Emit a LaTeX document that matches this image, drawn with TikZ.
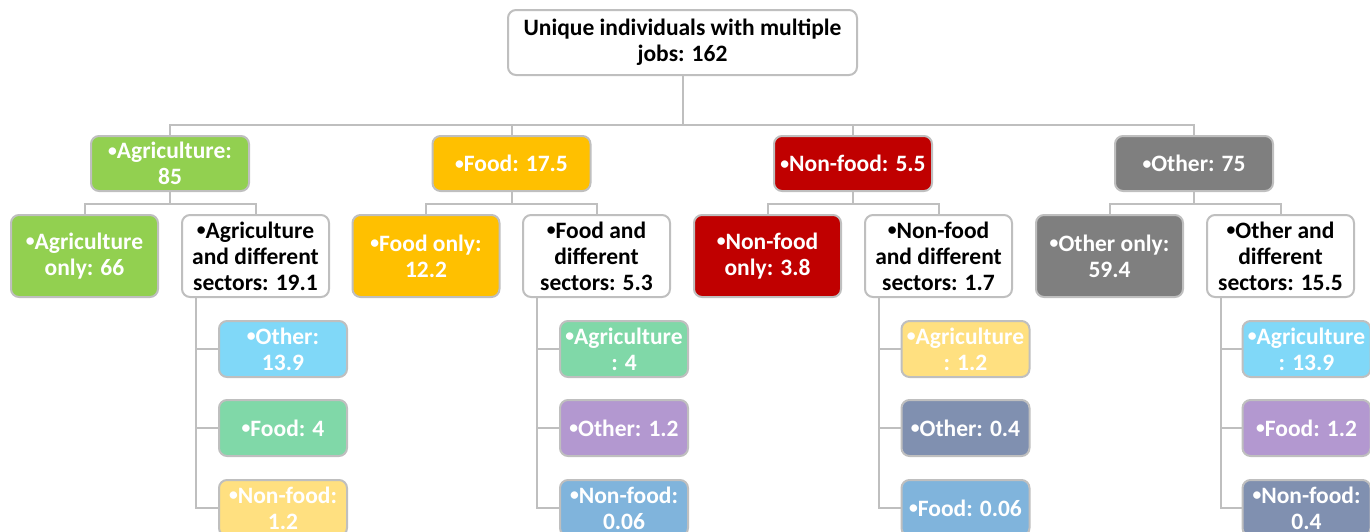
\documentclass[tikz,border=0pt]{standalone}
\usepackage{fontspec}
\setmainfont{Carlito}
\usetikzlibrary{calc,backgrounds}
\definecolor{bordergray}{HTML}{BFBFBF}
\definecolor{agri}{HTML}{92D050}
\definecolor{foodc}{HTML}{FFC000}
\definecolor{nonfood}{HTML}{C00000}
\definecolor{otherc}{HTML}{7F7F7F}
\definecolor{lblue}{HTML}{80D8F8}
\definecolor{lgreen}{HTML}{80D8A8}
\definecolor{lyellow}{HTML}{FFE080}
\definecolor{lpurple}{HTML}{B398D0}
\definecolor{mblue}{HTML}{80B4DC}
\definecolor{slate}{HTML}{8090B0}
\newcommand{\bul}{\raisebox{0.22ex}{\scalebox{0.75}{•}}}
\tikzset{
  box/.style={draw=bordergray, line width=2pt, rounded corners=8pt, align=center,
    inner sep=0pt, font=\fontsize{23.5}{26}\selectfont\bfseries},
  rootbox/.style={box, fill=white, text=black, minimum width=349pt, minimum height=65pt},
  lone/.style={box, text=white, minimum width=158pt, minimum height=55pt},
  ltwo/.style={box, minimum width=147pt, minimum height=82pt},
  lthree/.style={box, text=white, minimum width=128pt, minimum height=56pt},
  link/.style={draw=bordergray, line width=2pt},
}
\begin{document}
\begin{tikzpicture}[x=1pt,y=-1pt]
\useasboundingbox (0,0) rectangle (1370,531);
\node[rootbox] (root) at (682.5,42.5) {Unique individuals with multiple\\jobs: 162};

\node[lone, fill=agri] (agr) at (170,163.5) {\bul Agriculture:\\85};
\node[lone, fill=foodc] (fod) at (511.5,163.5) {\bul Food: 17.5};
\node[lone, fill=nonfood] (nfd) at (853,163.5) {\bul Non-food: 5.5};
\node[lone, fill=otherc] (oth) at (1194,163.5) {\bul Other: 75};

\node[ltwo, fill=agri, text=white] (agronly) at (84.5,256) {\bul Agriculture\\only: 66};
\node[ltwo, fill=white, text=black] (agrdiff) at (255.5,256) {\bul Agriculture\\and different\\sectors: 19.1};
\node[ltwo, fill=foodc, text=white] (fodonly) at (426,256) {\bul Food only:\\12.2};
\node[ltwo, fill=white, text=black] (foddiff) at (596.5,256) {\bul Food and\\different\\sectors: 5.3};
\node[ltwo, fill=nonfood, text=white] (nfdonly) at (767.5,256) {\bul Non-food\\only: 3.8};
\node[ltwo, fill=white, text=black] (nfddiff) at (938.5,256) {\bul Non-food\\and different\\sectors: 1.7};
\node[ltwo, fill=otherc, text=white] (othonly) at (1109.5,256) {\bul Other only:\\59.4};
\node[ltwo, fill=white, text=black] (othdiff) at (1280.5,256) {\bul Other and\\different\\sectors: 15.5};

\node[lthree, fill=lblue] (a1) at (283,349) {\bul Other:\\13.9};
\node[lthree, fill=lgreen] (a2) at (283,428) {\bul Food: 4};
\node[lthree, fill=lyellow] (a3) at (283,508) {\bul Non-food:\\1.2};

\node[lthree, fill=lgreen] (f1) at (624,349) {\bul Agriculture\\: 4};
\node[lthree, fill=lpurple] (f2) at (624,428) {\bul Other: 1.2};
\node[lthree, fill=mblue] (f3) at (624,508) {\bul Non-food:\\0.06};

\node[lthree, fill=lyellow] (n1) at (965.5,349) {\bul Agriculture\\: 1.2};
\node[lthree, fill=slate] (n2) at (965.5,428) {\bul Other: 0.4};
\node[lthree, fill=mblue] (n3) at (965.5,508) {\bul Food: 0.06};

\node[lthree, fill=lblue] (o1) at (1306.5,349) {\bul Agriculture\\: 13.9};
\node[lthree, fill=lpurple] (o2) at (1306.5,428) {\bul Food: 1.2};
\node[lthree, fill=slate] (o3) at (1306.5,508) {\bul Non-food:\\0.4};

\begin{scope}[on background layer]
\foreach \c in {agr,fod,nfd,oth}
  \draw[link] (root.south) -- ++(0,49) -| (\c.north);
\foreach \p/\a/\b in {agr/agronly/agrdiff, fod/fodonly/foddiff, nfd/nfdonly/nfddiff, oth/othonly/othdiff}{
  \draw[link] (\p.south) -- ++(0,12) -| (\a.north);
  \draw[link] (\p.south) -- ++(0,12) -| (\b.north);
}
\foreach \p/\x/\y/\z in {agrdiff/a1/a2/a3, foddiff/f1/f2/f3, nfddiff/n1/n2/n3, othdiff/o1/o2/o3}{
  \draw[link] ([xshift=15pt]\p.south west) |- (\x.west);
  \draw[link] ([xshift=15pt]\p.south west) |- (\y.west);
  \draw[link] ([xshift=15pt]\p.south west) |- (\z.west);
}
\end{scope}
\end{tikzpicture}
\end{document}
